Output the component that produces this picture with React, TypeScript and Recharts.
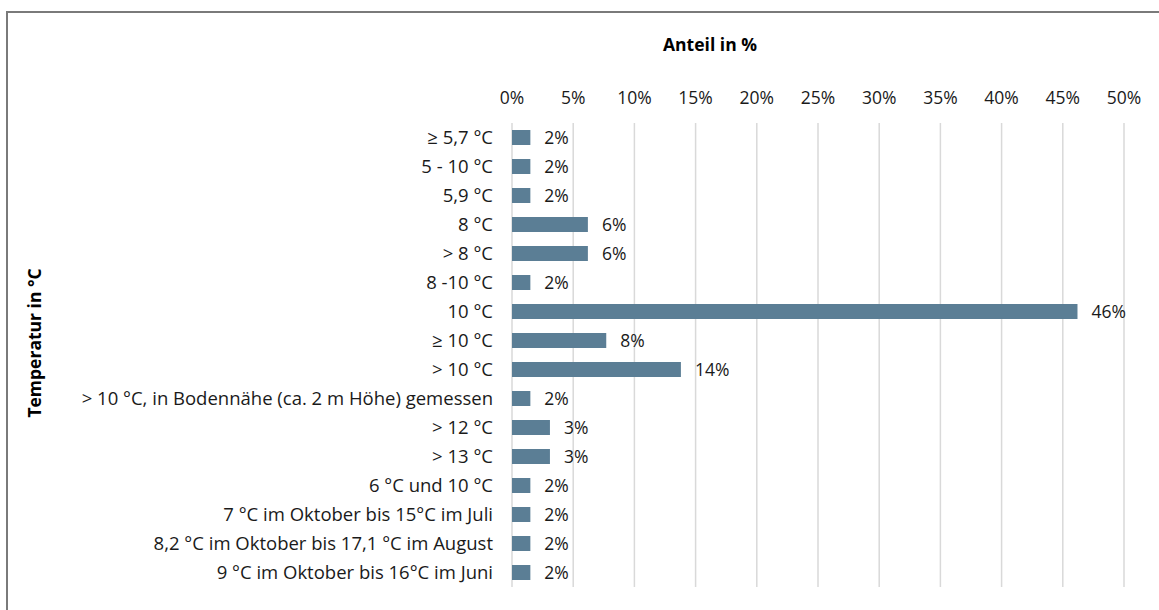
import { BarChart, Bar, XAxis, YAxis, CartesianGrid, LabelList, Label } from 'recharts'

const CATEGORIES = [
  '≥ 5,7 °C',
  '5 - 10 °C',
  '5,9 °C',
  '8 °C',
  '> 8 °C',
  '8 -10 °C',
  '10 °C',
  '≥ 10 °C',
  '> 10 °C',
  '> 10 °C, in Bodennähe (ca. 2 m Höhe) gemessen',
  '> 12 °C',
  '> 13 °C',
  '6 °C und 10 °C',
  '7 °C im Oktober bis 15°C im Juli',
  '8,2 °C im Oktober bis 17,1 °C im August',
  '9 °C im Oktober bis 16°C im Juni',
]
const SHARES = [1.5, 1.5, 1.5, 6.2, 6.2, 1.5, 46.2, 7.7, 13.8, 1.5, 3.1, 3.1, 1.5, 1.5, 1.5, 1.5]
const TICKS = [0, 5, 10, 15, 20, 25, 30, 35, 40, 45, 50]

const FONT = '"Open Sans", "Noto Sans", sans-serif'
const BAR = '#5B7E95'

const data = CATEGORIES.map((c, i) => ({ name: c, value: SHARES[i] }))

export default function App() {
  return (
    <div style={{ position: 'absolute', left: 0, top: 0, width: 1159, height: 610, background: 'white', fontFamily: FONT }}>
      {/* chart frame: only top and left edges fall inside the picture */}
      <div style={{ position: 'absolute', left: 6, top: 11, width: 1160, height: 610,
                    borderTop: '2px solid #7a7a7a', borderLeft: '2px solid #7a7a7a' }} />
      <BarChart width={1159} height={610} data={data} layout="vertical"
                margin={{ top: 93, right: 35, left: 20, bottom: 23 }}
                style={{ position: 'absolute', left: 0, top: 0 }}>
        <CartesianGrid horizontal={false} stroke="#d9d9d9" strokeWidth={1.5} />
        <XAxis type="number" orientation="top" domain={[0, 50]} ticks={TICKS} height={30}
               tickFormatter={(v: number) => `${v}%`} axisLine={false} tickLine={false}
               tickSize={0} tickMargin={19} interval={0}
               tick={{ fontSize: 17.5, fill: '#1a1a1a', fontFamily: FONT }}>
          <Label position="top" content={({ viewBox }: any) => (
            <text x={viewBox.x + viewBox.width / 2 - 108} y={viewBox.y - 42} textAnchor="middle"
                  style={{ fontSize: 17.5, fontWeight: 700, fill: '#000', fontFamily: FONT }}>
              Anteil in %
            </text>
          )} />
        </XAxis>
        <YAxis type="category" dataKey="name" width={492} axisLine={false} tickLine={false}
               tickSize={0} tickMargin={19} interval={0}
               tick={{ fontSize: 18.5, fill: '#1a1a1a', fontFamily: FONT }}>
          <Label angle={-90} position="insideLeft" offset={15} dy={-12}
                 style={{ fontSize: 17.5, fontWeight: 700, fill: '#000', fontFamily: FONT, textAnchor: 'middle' }}
                 value="Temperatur in °C" />
        </YAxis>
        <Bar dataKey="value" fill={BAR} barSize={15} isAnimationActive={false}>
          <LabelList dataKey="value" position="right" offset={14}
                     formatter={(v: any) => `${Math.round(Number(v))}%`}
                     style={{ fontSize: 17.5, fill: '#1a1a1a', fontFamily: FONT }} />
        </Bar>
      </BarChart>
    </div>
  )
}
